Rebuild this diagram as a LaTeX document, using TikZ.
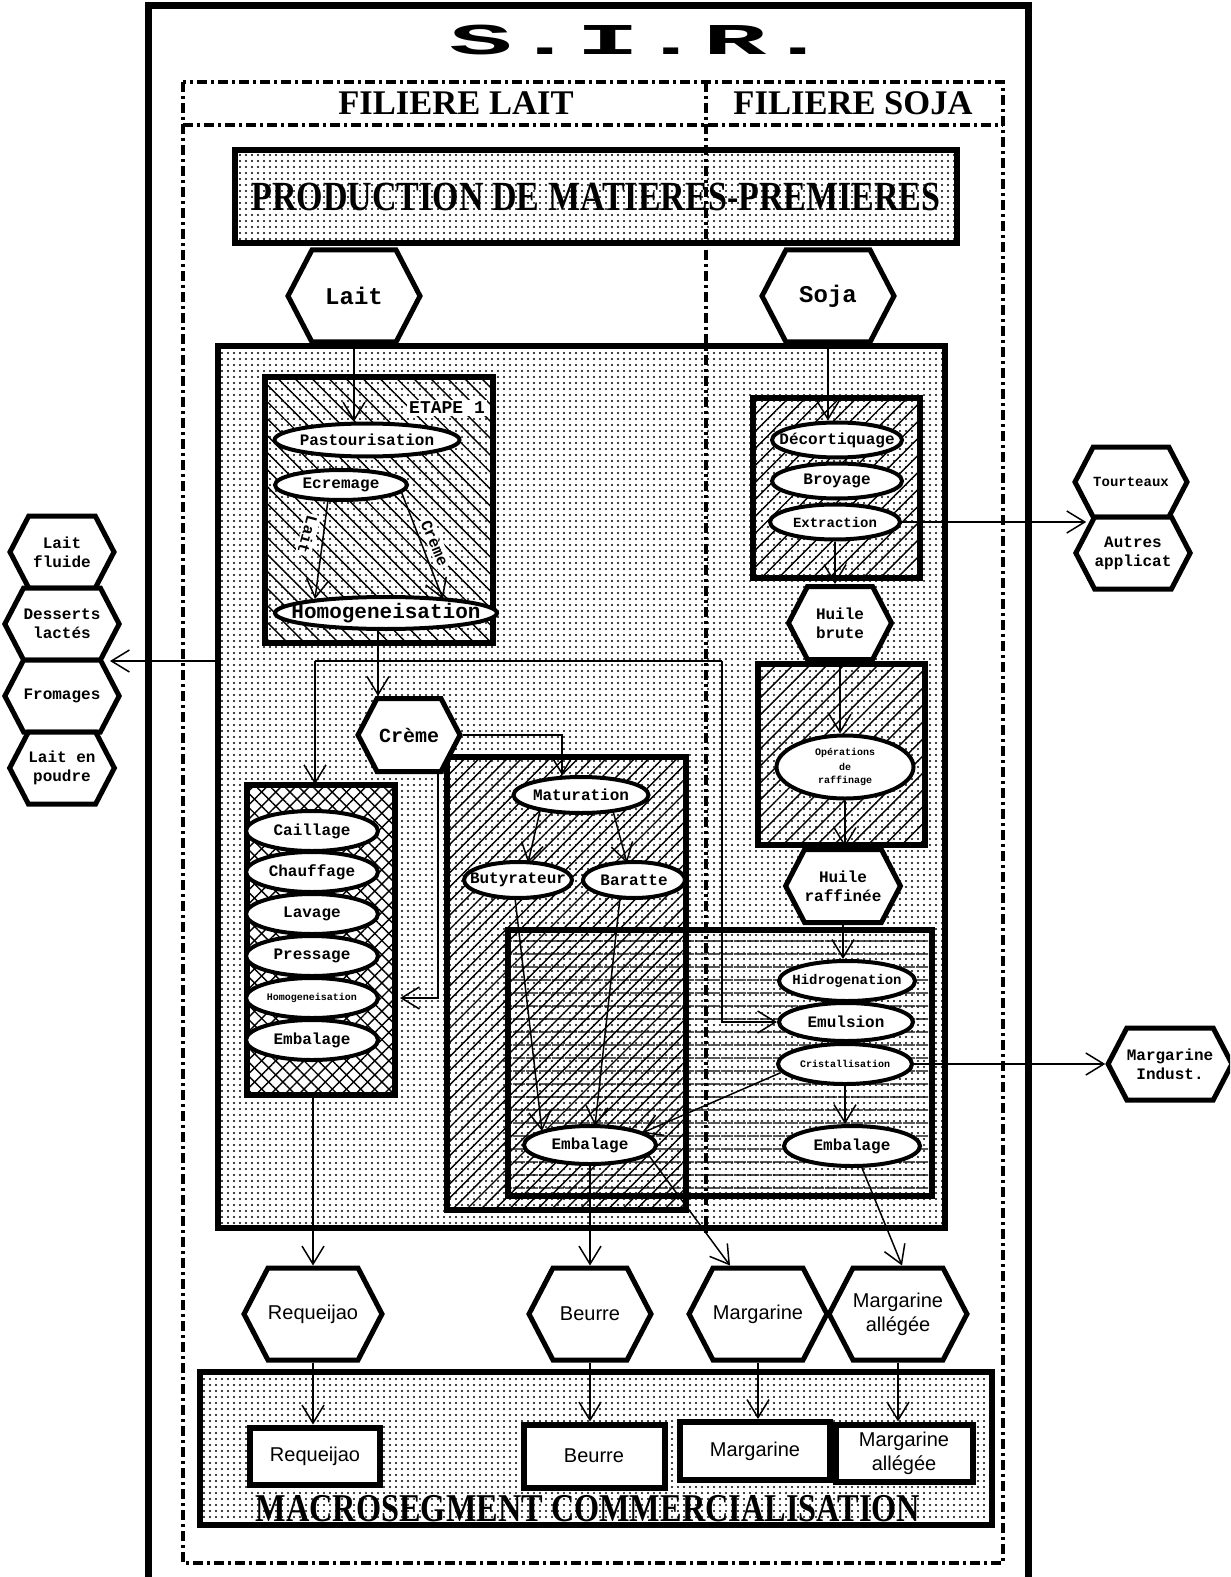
\documentclass[tikz,border=0pt]{standalone}
\usepackage{fontspec}
\setmainfont{Liberation Serif}
\setsansfont{Liberation Sans}
\setmonofont{Liberation Mono}
\newfontfamily\titlefont{Liberation Mono}[FakeStretch=2.4]
\newfontfamily\bandfont{Liberation Serif}[FakeStretch=0.82]
\usepackage{tikz}
\usetikzlibrary{arrows.meta,calc,fit,shapes.geometric,shapes.symbols,patterns.meta}
\tikzset{
  >={Straight Barb[length=9pt,width=11pt]},
  hexa/.style 2 args={shape=signal,signal to=east and west,signal pointer angle=125,
                  draw,line width=2.5pt,fill=white,inner sep=0pt,align=center,
                  font=\ttfamily\bfseries\footnotesize,
                  minimum width=#1*0.5pt,minimum height=#2*0.5pt},
  % text of an oval is boxed to zero width, so the oval keeps its given size
  oval/.style 2 args={ellipse,draw,line width=2pt,fill=white,inner sep=0pt,
                  font=\ttfamily\bfseries\footnotesize,
                  execute at begin node={\hbox to 0pt\bgroup\hss},
                  execute at end node={\hss\egroup},
                  minimum width=#1*0.5pt,minimum height=#2*0.5pt},
  outlet/.style 2 args={draw,line width=3pt,fill=white,inner sep=0pt,
                  font=\sffamily,align=center,
                  minimum width=#1*0.5pt,minimum height=#2*0.5pt},
  zone/.style   ={draw,line width=3pt,inner sep=0pt},
  dotfill/.style={pattern={Dots[distance=3pt,radius=0.55pt]}},
  slash/.style  ={pattern={Lines[angle=45,distance=#1,line width=0.7pt]}},
  bslash/.style ={pattern={Lines[angle=-45,distance=#1,line width=0.7pt]}},
  flow/.style   ={->,line width=0.75pt},
  frameline/.style={line width=2pt,dash pattern=on 5pt off 2pt on 1.5pt off 2pt},
  lbl/.style    ={fill=white,inner sep=1pt,font=\ttfamily\bfseries\footnotesize},
}
\begin{document}
\begin{tikzpicture}[x=0.5pt,y=-0.5pt]
\useasboundingbox (0,0) rectangle (1230,1577);
\clip (0,0) rectangle (1230,1577);

% frames
\draw[line width=3.5pt] (148,1600) |- (1028,6) -- (1028,1600);
\draw[frameline] (183,82) rectangle (1003,1563);
\draw[frameline] (183,125) -- (1003,125);
\node[font=\titlefont\bfseries\fontsize{22}{26}\selectfont] (title) at (640,40) {S.I.R.};
\node[font=\rmfamily\bfseries\LARGE] (fl) at (456,103) {FILIERE LAIT};
\node[font=\rmfamily\bfseries\LARGE] (fs) at (853,103) {FILIERE SOJA};

\node[zone,dotfill,fit={(235,150) (957,243)}] (prod) {};
\node[font=\bandfont\bfseries\huge] (prodtxt) at (596,197) {PRODUCTION DE MATIERES-PREMIERES};

% process zones
\node[zone,dotfill,fit={(218,346) (945,1228)}] (gray) {};
\node[zone,bslash=6pt,fit={(265,377) (493,643)}] (etape) {};
\node[zone,slash=6pt,fit={(753,398) (920,578)}] (sbox) {};
\node[zone,slash=6pt,fit={(758,664) (925,845)}] (rbox) {};
\node[zone,preaction={fill=white},preaction={slash=5pt},bslash=5pt,
      fit={(247,785) (395,1095)}] (cbox) {};
\node[zone,slash=5pt,fit={(447,757) (686,1210)}] (bbox) {};
\node[zone,pattern={Lines[angle=0,distance=6.5pt,line width=0.7pt]},
      fit={(508,930) (932,1196)}] (mbox) {};
\node[lbl,font=\ttfamily\bfseries\small] (etl) at (447,408) {ETAPE 1};

% raw materials
\node[hexa={132}{92},font=\ttfamily\bfseries\large] (Lait) at (354,296) {Lait};
\node[hexa={132}{92},font=\ttfamily\bfseries\large] (Soja) at (828,296) {Soja};

% filiere lait
\node[oval={185}{33}] (Past) at (367,440) {Pastourisation};
\node[oval={132}{30}] (Ecr) at (341,485) {Ecremage};
\node[oval={222}{32},font=\ttfamily\bfseries\fontsize{10.5}{12}\selectfont] (Hom1) at (386,613) {Homogeneisation};
\node[lbl,rotate=-105] (tlait) at (308,535) {Lait};
\node[lbl,rotate=-67] (tcreme) at (435,543) {Crème};
\node[hexa={102}{73},font=\ttfamily\bfseries\normalsize] (Cr) at (409,735) {Crème};

\node[oval={132}{40}] (Cai) at (312,831) {Caillage};
\node[oval={132}{40}] (Chf) at (312,872) {Chauffage};
\node[oval={132}{40}] (Lav) at (312,914) {Lavage};
\node[oval={132}{40}] (Pre) at (312,956) {Pressage};
\node[oval={132}{40},font=\ttfamily\bfseries\tiny] (Hom2) at (312,998) {Homogeneisation};
\node[oval={132}{40}] (EmbL) at (312,1040) {Embalage};

\node[oval={135}{36}] (Mat) at (581,795) {Maturation};
\node[oval={108}{36}] (Buty) at (518,880) {Butyrateur};
\node[oval={102}{36}] (Bar) at (634,880) {Baratte};
\node[oval={132}{38}] (EmbB) at (590,1145) {Embalage};

% filiere soja
\node[oval={130}{35}] (Dec) at (837,440) {Décortiquage};
\node[oval={130}{35}] (Broy) at (837,481) {Broyage};
\node[oval={130}{35},font=\ttfamily\bfseries\scriptsize] (Extr) at (835,522) {Extraction};
\node[hexa={103}{73}] (HB) at (840,623) {Huile\\brute};
\node[oval={137}{63},font=\ttfamily\bfseries\tiny] (Ops) at (845,767) {\shortstack{Opérations\\de\\raffinage}};
\node[hexa={103}{73}] (HR) at (843,886) {Huile\\raffinée};
\node[oval={136}{40},font=\ttfamily\bfseries\scriptsize] (Hid) at (847,981) {Hidrogenation};
\node[oval={134}{38}] (Emul) at (846,1022) {Emulsion};
\node[oval={134}{40},font=\ttfamily\bfseries\tiny] (Crist) at (845,1064) {Cristallisation};
\node[oval={136}{40}] (EmbS) at (852,1146) {Embalage};

% side outlets
\node[hexa={104}{72}] (LF) at (62,552) {Lait\\fluide};
\node[hexa={104}{72}] (DL) at (62,624) {Desserts\\lactés};
\node[hexa={104}{72}] (Fro) at (62,696) {Fromages};
\node[hexa={104}{72}] (LP) at (62,768) {Lait en\\poudre};
\node[hexa={106}{70},font=\ttfamily\bfseries\scriptsize] (Tour) at (1131,482) {Tourteaux};
\node[hexa={106}{72}] (Aut) at (1133,553) {Autres\\applicat};
\node[hexa={106}{72}] (MI) at (1170,1064) {Margarine\\Indust.};

% products
\node[hexa={116}{92},font=\sffamily] (Req) at (313,1314) {Requeijao};
\node[hexa={122}{92},font=\sffamily] (Beu) at (590,1314) {Beurre};
\node[hexa={116}{92},font=\sffamily] (Marg) at (758,1314) {Margarine};
\node[hexa={133}{92},font=\sffamily] (MA) at (898,1314) {Margarine\\allégée};

\node[zone,dotfill,fit={(200,1372) (992,1525)}] (macro) {};
\node[outlet={130}{57}] (rReq) at (315,1456) {Requeijao};
\node[outlet={141}{63}] (rBeu) at (594,1456) {Beurre};
\node[outlet={150}{58}] (rMarg) at (755,1451) {Margarine};
\node[outlet={137}{57}] (rMA) at (904,1453) {Margarine\\allégée};
\node[font=\bandfont\bfseries\fontsize{19.7}{23}\selectfont] (macrotxt) at (588,1509) {MACROSEGMENT COMMERCIALISATION};

% connectors
\coordinate (hl) at (315,661);
\coordinate (hr) at (722,661);
\coordinate (lout) at (110,661);
\coordinate (hc) at ($(Hom1.south)+(-8,0)$);
\coordinate (cd) at ($(Cr.south)+(29,0)$);
\draw[flow] (Lait.south) -- (Lait.south |- Past.north);
\draw[flow] ($(Ecr.center)+(-13,15)$) -- ($(Hom1.center)+(-71,-14)$);
\draw[flow] ($(Ecr.center)+(60,6)$) -- ($(Hom1.center)+(57,-14)$);
\draw[flow] (hc) -- (hc |- Cr.north);
\draw[line width=0.75pt] (hl) -- (hr);
\draw[flow] (hl) -- (hl |- cbox.north);
\draw[flow] (hr) |- (Emul.west);
\draw[flow] (gray.west |- hl) -- (lout);
\draw[flow] (Cr.east) -| ($(Mat.north)+(-19,0)$);
\draw[flow] (cd) |- ($(Hom2.east)+(20,0)$);
\draw[flow] ($(Mat.center)+(-41,16)$) -- ($(Buty.center)+(10,-17)$);
\draw[flow] ($(Mat.center)+(32,16)$) -- ($(Bar.center)+(-7,-17)$);
\draw[flow] ($(Buty.center)+(-3,18)$) -- ($(EmbB.center)+(-48,-14)$);
\draw[flow] ($(Bar.center)+(-14,18)$) -- ($(EmbB.center)+(5,-19)$);
\draw[flow] ($(Crist.center)+(-65,9)$) -- ($(EmbB.center)+(52,-12)$);
\draw[flow] (EmbB.south) -- (Beu.north);
\draw[flow] ($(EmbB.center)+(57,8)$) -- ($(Marg.north)+(-28,0)$);
\draw[flow] ($(EmbS.south)+(10,0)$) -- ($(MA.north)+(4,0)$);
\draw[flow] (cbox.south -| Req.north) -- (Req.north);
\draw[flow] (Soja.south) -- (Soja.south |- Dec.north);
\draw[flow] (Extr.south) -- (Extr.south |- HB.north);
\draw[flow] (Extr.east) -- ($(Extr.east -| Tour.west)+(14,0)$);
\draw[flow] (HB.south) -- (HB.south |- Ops.north);
\draw[flow] (Ops.south) -- (Ops.south |- HR.north);
\draw[flow] (HR.south) -- (HR.south |- Hid.north);
\draw[flow] (Crist.south) -- (Crist.south |- EmbS.north);
\draw[flow] (Crist.east) -- (Crist.east -| MI.west);
\draw[flow] (Req.south) -- (Req.south |- rReq.north);
\draw[flow] (Beu.south) -- (Beu.south |- rBeu.north);
\draw[flow] (Marg.south) -- (Marg.south |- rMarg.north);
\draw[flow] (MA.south) -- (MA.south |- rMA.north);

% filiere divider
\draw[frameline] (706,82) -- (706,1235);
\end{tikzpicture}
\end{document}
